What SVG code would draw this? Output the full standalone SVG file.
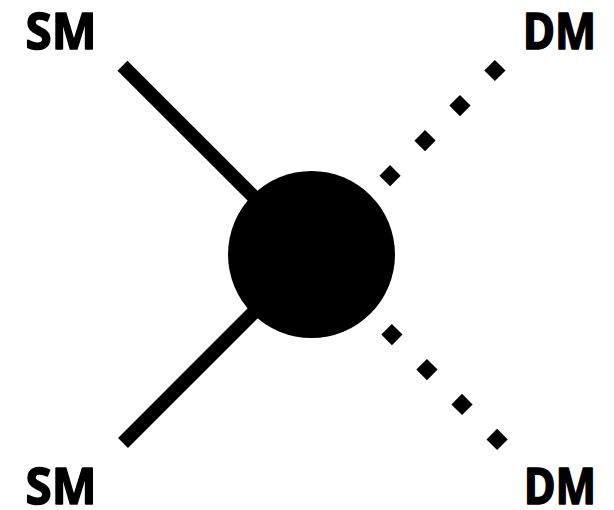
<svg xmlns="http://www.w3.org/2000/svg" width="614" height="510" viewBox="0 0 614 510">
<style>
.lbl{font-family:"Noto Sans","Open Sans",sans-serif;font-weight:bold;font-size:51px;fill:#000;stroke:#000;stroke-width:1.6;stroke-linejoin:round}
.sm{stroke:#000;stroke-width:14;fill:none}
.dm{stroke:#000;stroke-width:15;fill:none;stroke-dasharray:15 34.5}
</style>
<rect width="614" height="510" fill="#fff"/>
<g id="connectors">
<line class="sm" x1="122.5" y1="65.7" x2="311.5" y2="254.5"/>
<line class="sm" x1="123" y1="443" x2="311.5" y2="254.5"/>
<line class="dm" x1="500.2" y1="65.2" x2="311.5" y2="254.5"/>
<line class="dm" x1="502.4" y1="444.7" x2="311.5" y2="254.5"/>
</g>
<g id="vertex"><circle cx="311.5" cy="254.5" r="83.5" fill="#000"/></g>
<g id="sm1"><text class="lbl" x="25.5" y="49" textLength="71" lengthAdjust="spacingAndGlyphs">SM</text></g>
<g id="sm2"><text class="lbl" x="25.5" y="504" textLength="71" lengthAdjust="spacingAndGlyphs">SM</text></g>
<g id="dm1"><text class="lbl" x="523" y="49" textLength="73" lengthAdjust="spacingAndGlyphs">DM</text></g>
<g id="dm2"><text class="lbl" x="524" y="504" textLength="72" lengthAdjust="spacingAndGlyphs">DM</text></g>
</svg>
